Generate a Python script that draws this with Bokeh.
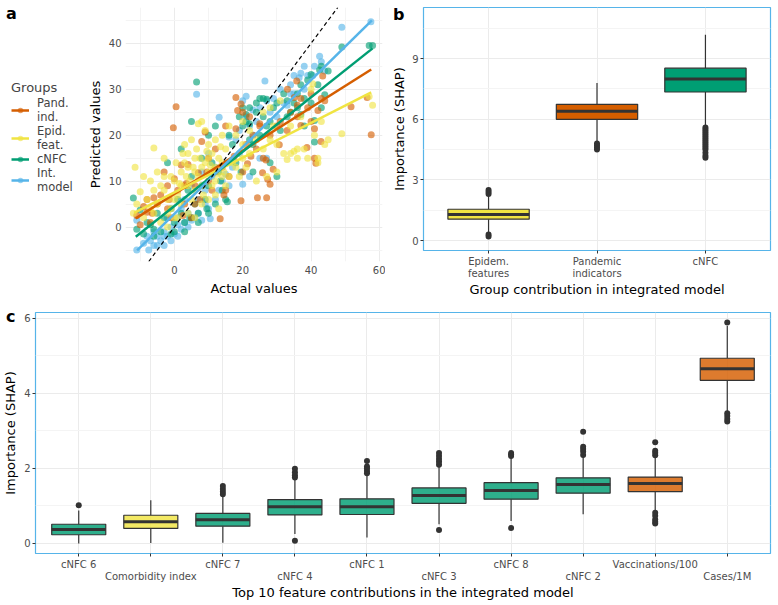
import numpy as np
from bokeh.plotting import figure
from bokeh.models import Legend, LegendItem, FixedTicker, Slope, Div
from bokeh.layouts import column, row
from bokeh.embed import file_html
from bokeh.resources import INLINE

FONT = "DejaVu Sans"
ORANGE = "#D55E00"
YELLOW = "#F0E442"
GREEN = "#009E73"
BLUE = "#56B4E9"
BOXLINE = "#333333"
GRID = "#EBEBEB"
MINOR = "#F4F4F4"
TICKTXT = "#4D4D4D"

# ---------------- Panel a data (actual vs predicted) ----------------
groups = ["Pand.\nind.", "Epid.\nfeat.", "cNFC", "Int.\nmodel"]

pand_x = [-11, -10, -9, -8, -7, -6, -5, -4, -3, -2, -1, -0.3, 0.5, 0, 1, 2, 3, 4, 5, 6, 7, 8, 9, 10, 11, 12,
          13.4, 14, 15, 16, 17.5, 18, 18, 18.5, 19.5, 19.5, 20, 21.4, 22.4, 23, 24.3, 25.8, 26.8, 27, 27.3, 28,
          28.9, 30, 30.7, 33.1, 34, 35.1, 35.8, 37, 38.8, 41, 41.4, 41, 42, 42.9, 43.4, 51.7, 56.4, 57.6,
          -6.5, -1.5, 3.5, 7.5, 2.5, 9.5, 14.5, 36, 40, 25,
          20, 22, 25, 28, 31, 33, 36, 39, 40, 43, 44, 37, 21, 24, 26, 15, 12, 10, 6, 3, -2, -8]
pand_y = [2.5, 0.5, 4.5, 3.2, 1, 6.4, 5, 7, 12, 9, 2, 21.6, 26.2, 10.5, 8, 13.5, 5, 13.6, 2, 9, 11.8, 18.6,
          20.7, 15, 8, 17, 1.8, 13, 22, 11, 15.4, 21.4, 28.2, 25.4, 26.8, 5.7, 12, 13.8, 15.4, 20, 6.4, 11.8,
          14.6, 6.4, 10.4, 9.3, 12.6, 22, 17.9, 30, 25, 28.2, 31.8, 22.1, 17.3, 15, 13.9, 21.4, 25.4, 18.6,
          32.9, 26.2, 28.2, 20.1, 3, 6, 9.5, 6, 2.5, 12, 7, 26.5, 29, 22.5,
          25, 24, 22, 20, 23, 21, 24, 26, 23, 28, 27.5, 28, 18, 17, 15, 8, 12, 10, 5, 9, 4, 6]

epid_x = [-12, -11.5, -11, -10, -9, -9, -8, -7, -7, -6, -6, -5, -5, -4, -4, -3, -3, -2, -2, -1, -1, 0, 0,
          0.5, 1, 1, 2, 2, 3, 3, 4, 4, 4, 5, 5, 6, 6, 6, 7, 7, 8, 8, 8, 9, 9, 10, 10, 10, 11, 11, 12, 12, 12,
          13, 13, 14, 14, 15, 15, 16, 16, 18, 18, 20, 20, 22, 22, 24, 26, 27, 28, 29, 30, 31, 32, 33, 34, 35,
          36, 37, 38, 39, 40, 40.5, 41, 42, 42, 43, 45, 49, 57, 58,
          1.5, 3.5, 5.5, 7.5, 9.5, 11.5, 13.5, 2.5, 6.5, 10.5, 14.5, 8.5, 4.5, 12.5,
          20, 24, 30, 36, 44, 26, 28, 34, 17, 19, 21, 2, 4, 6, 8, 10, 12, 14, 0, -2, -3, -6]
epid_y = [3, 13, 5, 7.7, 11, 2, 6, 10, 4, 17.2, 8, 5, 12, 1, 9, 8, 15, 0, 6, 4, 11, 10, 2, 14, 2, 7, 5, 12,
          14, 18, 3, 9, 13, 19, 6, 2, 8, 15, 22.5, 11, 23, 9, 5, 21, 14, 12, 6, 18, 16, 9, 10, 7, 19, 15, 4,
          14, 20, 17, 9, 11, 22, 20, 13, 18, 23, 21, 16, 10, 17, 11, 19, 22, 12, 27.5, 16, 14.7, 16, 16.5, 17,
          24, 17, 15, 30, 31.2, 20, 14, 15, 23, 19, 20.3, 28.4, 26.5,
          9.5, 11, 13, 15, 16.5, 12.5, 17.5, 16, 17, 13.5, 12, 7, 10, 11.5,
          15, 19, 18, 15, 18, 25, 26, 22, 14, 11, 13, 9, 16, 12, 13, 15, 13, 11, 6, 3, 11, 3]

cnfc_x = [-12, -11, -10, -9, -8, -7, -6, -5, -4, -3, -2, -1, 0, 0, 1, 2, 2, 3, 4, 5, 5, 6, 6.5, 7, 8, 8, 9,
          10, 10, 11, 12, 13, 14, 15, 16, 17, 18, 19, 20, 21, 22, 23, 23, 24, 25, 26, 27, 28, 28, 30, 31, 32,
          33, 35, 36, 37, 38, 40, 41, 41, 42.5, 43, 44, 45, 49, 57, 58, 4.5, 9.5, 13.5, 15.5, 19.5,
          21, 22, 24, 26, 29, 33, 34, 36, 38, 39, 40, 42, 43, 37, 30, 27, 25, 20, 22, -1, -6, 3, 5, 7, 10, 12]
cnfc_y = [6.3, -0.5, 3.7, -1.5, 1, 0.5, -2, 3, -1, 2, 14, 4, 1, -1, 6, 17, 3, 1, 8, 11, 23, 5, 31.6, 3, 15,
          9, 6, 20, 9, 14, 22, 12, 8, 6, 20, 18, 14, 24, 26, 23, 26, 18, 12, 25, 28, 28, 27.8, 14, 23, 11, 21,
          29, 24, 27, 26, 31, 22, 33.2, 23.2, 18.5, 34.2, 35, 28.8, 34, 39.2, 39.5, 39.5, 2, 4, 10, 5.5, 12,
          24.5, 22.5, 27, 24, 26, 27.5, 25, 29, 28, 32, 27, 31, 26, 24.5, 27, 22, 20, 22, 19, -1.5, -0.5, -1, 2,
          1, 3, 5]

intm_x = [-11, -11, -9, -8, -7.5, -7, -6, -5, -5, -4, -3, -3, -2, -1, -1, 0, 1, 1, 2, 3, 4, 5, 6, 7, 8, 9,
          10, 10.5, 12, 13, 14, 15, 16, 17, 18, 19, 20, 20, 21, 22, 23, 24, 25, 26.5, 6.5, 28, 30, 32, 33, 34,
          35, 36.5, 38, 39, 40.5, 42.5, 44, 49, 57.5, 12, 5, 3, -2, 8, 10, 2, 27, 16, 13.1,
          21, 23, 25, 27, 29, 31, 34, 37, 38, 41, 43, 35, 22, 19, 11, 9, 7, 4, 1, -3, -6]
intm_y = [-5, 1.5, -3.5, -2, -5, -3, -1, -4, -2, -3, -1, -4, -2, -3, 0, -1.5, -2, 0.5, -0.5, 1, 0, 1.5, 2,
          3, 1.5, 5, 4, 1.8, 6, 8, 10, 11.5, 9, 13, 19, 16, 9.3, 27.5, 28.5, 11, 20, 23, 15, 31.8, 28.9, 25,
          24, 27, 26.5, 29, 29, 32.5, 30, 33, 33, 37.2, 34, 43.5, 44.7, 13, 9, 6, 2, 12, 16, 4, 15, 19.6, 23.9,
          24, 25.5, 26, 27.5, 28, 30, 31, 33.5, 35, 35, 36, 33, 22, 21, 11, 8, 6, 3, 2, -2, -4]

# fitted lines (start / end)
fit_x0 = [-11.3, -11.8, -11.3, -10.9]
fit_x1 = [57.6, 57.6, 58.0, 57.8]
fit_y0 = [1.9, 3.1, -2.1, -5.1]
fit_y1 = [34.3, 29.3, 38.9, 45.0]

# ---------------- Panel b data ----------------
b_labels = ["Epidem.\nfeatures", "Pandemic\nindicators", "cNFC"]
b_q1 = [1.06, 6.00, 7.35]
b_med = [1.29, 6.40, 7.99]
b_q3 = [1.55, 6.74, 8.53]
b_wlo = [0.40, 4.90, 5.65]
b_whi = [2.20, 7.80, 10.18]
b_out = [[0.2, 0.3, 2.3, 2.4, 2.5],
         [4.5, 4.6, 4.7, 4.8],
         [4.1, 4.2, 4.35, 4.5, 4.6, 4.7, 4.8, 4.9, 5.0, 5.1, 5.2, 5.3, 5.4, 5.5, 5.6]]
b_colors = [YELLOW, ORANGE, GREEN]

# ---------------- Panel c data ----------------
c_labels = ["cNFC 6", "Comorbidity index", "cNFC 7", "cNFC 4", "cNFC 1",
            "cNFC 3", "cNFC 8", "cNFC 2", "Vaccinations/100", "Cases/1M"]
c_group = ["cNFC", "Epid", "cNFC", "cNFC", "cNFC", "cNFC", "cNFC", "cNFC", "Pand", "Pand"]
c_q1 = [0.23, 0.40, 0.46, 0.76, 0.77, 1.07, 1.18, 1.34, 1.38, 4.35]
c_med = [0.37, 0.58, 0.63, 0.98, 0.98, 1.28, 1.41, 1.57, 1.60, 4.66]
c_q3 = [0.51, 0.75, 0.80, 1.17, 1.19, 1.48, 1.62, 1.75, 1.77, 4.94]
c_wlo = [0.00, 0.01, 0.02, 0.25, 0.16, 0.51, 0.60, 0.78, 0.86, 3.51]
c_whi = [0.88, 1.15, 1.30, 1.74, 1.82, 2.05, 2.30, 2.40, 2.30, 5.80]
c_out = [[1.02],
         [],
         [1.31, 1.38, 1.45, 1.53],
         [0.07, 1.76, 1.82, 1.90, 1.99],
         [1.87, 1.93, 2.00, 2.05, 2.20],
         [0.36, 2.10, 2.18, 2.25, 2.33, 2.41],
         [0.41, 2.33, 2.37, 2.41],
         [2.36, 2.45, 2.52, 2.58, 2.98],
         [0.53, 0.58, 0.64, 0.74, 0.82, 2.35, 2.42, 2.47, 2.70],
         [3.25, 3.32, 3.40, 3.47, 5.89]]
c_color_map = {"cNFC": GREEN, "Epid": YELLOW, "Pand": ORANGE}


def style_axes(p, tick_size="10px", title_size="13px"):
    for ax in (p.xaxis, p.yaxis):
        ax.axis_line_color = None
        ax.major_label_text_font = FONT
        ax.major_label_text_font_size = tick_size
        ax.major_label_text_color = TICKTXT
        ax.axis_label_text_font = FONT
        ax.axis_label_text_font_size = title_size
        ax.axis_label_text_font_style = "normal"
        ax.axis_label_text_color = "black"
        ax.minor_tick_line_color = None
        ax.minor_tick_out = 0
        ax.minor_tick_in = 0


TOP_H = 311

# ======================= Panel a =======================
pa = figure(width=305, height=TOP_H, output_backend="svg", toolbar_location=None,
            x_range=(-14.3, 60.9), y_range=(-7.5, 47.8),
            min_border_left=45, min_border_right=3, min_border_top=6, min_border_bottom=50)
pa.outline_line_color = None
pa.xaxis.ticker = FixedTicker(ticks=[0, 20, 40, 60], minor_ticks=[-10, 10, 30, 50])
pa.yaxis.ticker = FixedTicker(ticks=[0, 10, 20, 30, 40], minor_ticks=[-5, 5, 15, 25, 35, 45])
pa.xaxis.axis_label = "Actual values"
pa.yaxis.axis_label = "Predicted values"
style_axes(pa)
for ax in (pa.xaxis, pa.yaxis):
    ax.major_tick_line_color = None
    ax.major_tick_out = 0
    ax.major_tick_in = 0
    ax.major_label_standoff = 4
    ax.axis_label_standoff = 4
pa.yaxis.axis_label_standoff = 3
for g in (pa.xgrid, pa.ygrid):
    g.grid_line_color = GRID
    g.minor_grid_line_color = MINOR

pt_kw = dict(size=7, alpha=0.62, line_color=None)
pa.scatter(intm_x, intm_y, fill_color=BLUE, **pt_kw)
pa.scatter(cnfc_x, cnfc_y, fill_color=GREEN, **pt_kw)
pa.scatter(pand_x, pand_y, fill_color=ORANGE, **pt_kw)
pa.scatter(epid_x, epid_y, fill_color=YELLOW, **pt_kw)
pa.add_layout(Slope(gradient=1, y_intercept=0, line_color="black", line_dash="4 3", line_width=1.2))

line_cols = [ORANGE, YELLOW, GREEN, BLUE]
for i, col in enumerate(line_cols):
    pa.line([fit_x0[i], fit_x1[i]], [fit_y0[i], fit_y1[i]], line_color=col, line_width=2.5)

# ---- legend panel for a (own narrow figure; its renderers are hidden) ----
pl = figure(width=80, height=300, output_backend="svg", toolbar_location=None,
            x_range=(0, 1), y_range=(0, 1), min_border=0)
pl.axis.visible = False
pl.grid.visible = False
pl.outline_line_color = None
all_x = [pand_x, epid_x, cnfc_x, intm_x]
all_y = [pand_y, epid_y, cnfc_y, intm_y]
items = []
for i, col in enumerate(line_cols):
    lr = pl.line([fit_x0[i], fit_x1[i]], [fit_y0[i], fit_y1[i]], line_color=col, line_width=2.5, visible=False)
    sr = pl.scatter(all_x[i], all_y[i], fill_color=col, size=7, alpha=0.62, line_color=None, visible=False)
    items.append(LegendItem(label=groups[i], renderers=[lr, sr]))
leg = Legend(items=items, title="Groups", location=(11, 56))
leg.title_text_font = FONT
leg.title_text_font_size = "13px"
leg.title_text_font_style = "normal"
leg.label_text_font = FONT
leg.label_text_font_size = "11.5px"
leg.label_text_line_height = 1.1
leg.border_line_color = None
leg.background_fill_alpha = 0
leg.inactive_fill_alpha = 0
leg.padding = 4
leg.margin = 0
leg.spacing = 0
leg.glyph_width = 18
leg.glyph_height = 14
leg.label_standoff = 8
leg.title_standoff = 1
pl.add_layout(leg, "center")

# ======================= Panel b =======================
bx = [1, 2, 3]
pb = figure(width=393, height=300, output_backend="svg", toolbar_location=None,
            x_range=(0.4, 3.6), y_range=(-0.49, 11.53),
            min_border_left=38, min_border_right=8, min_border_top=7, min_border_bottom=48)
pb.outline_line_color = BLUE
pb.outline_line_width = 1.2
pb.xaxis.ticker = FixedTicker(ticks=bx)
pb.xaxis.major_label_overrides = {i + 1: b_labels[i] for i in range(3)}
pb.yaxis.ticker = FixedTicker(ticks=[0, 3, 6, 9], minor_ticks=[1.5, 4.5, 7.5, 10.5])
pb.xaxis.axis_label = "Group contribution in integrated model"
pb.yaxis.axis_label = "Importance (SHAP)"
style_axes(pb)
pb.xaxis.major_label_text_line_height = 1.15
for ax in (pb.xaxis, pb.yaxis):
    ax.major_tick_line_color = BOXLINE
    ax.major_tick_out = 3
    ax.major_tick_in = 0
    ax.major_label_standoff = 2
    ax.axis_label_standoff = 2
pb.xaxis.axis_label_standoff = 0
pb.xgrid.grid_line_color = GRID
pb.ygrid.grid_line_color = GRID
pb.ygrid.minor_grid_line_color = MINOR

BW = 0.75
pb.segment(bx, b_q3, bx, b_whi, line_color=BOXLINE, line_width=1.2)
pb.segment(bx, b_q1, bx, b_wlo, line_color=BOXLINE, line_width=1.2)
pb.vbar(x=bx, width=BW, top=b_q3, bottom=b_q1, fill_color=b_colors, line_color=BOXLINE, line_width=1.2)
pb.segment([x - BW / 2 for x in bx], b_med, [x + BW / 2 for x in bx], b_med, line_color=BOXLINE, line_width=3)
ox, oy = [], []
for i, outs in enumerate(b_out):
    ox += [bx[i]] * len(outs)
    oy += outs
pb.scatter(ox, oy, size=6, fill_color=BOXLINE, line_color=None)

# ======================= Panel c =======================
cx = list(range(1, 11))
pc = figure(width=778, height=605 - TOP_H, output_backend="svg", toolbar_location=None,
            x_range=(0.4, 10.6), y_range=(-0.27, 6.16),
            min_border_left=35, min_border_right=8, min_border_top=1, min_border_bottom=52)
pc.outline_line_color = BLUE
pc.outline_line_width = 1.2
pc.xaxis.ticker = FixedTicker(ticks=cx)
pc.xaxis.major_label_overrides = {i + 1: (c_labels[i] if i % 2 == 0 else "\n" + c_labels[i]) for i in range(10)}
pc.yaxis.ticker = FixedTicker(ticks=[0, 2, 4, 6], minor_ticks=[1, 3, 5])
pc.xaxis.axis_label = "Top 10 feature contributions in the integrated model"
pc.yaxis.axis_label = "Importance (SHAP)"
style_axes(pc)
pc.xaxis.major_label_text_line_height = 1.15
for ax in (pc.xaxis, pc.yaxis):
    ax.major_tick_line_color = BOXLINE
    ax.major_tick_out = 3
    ax.major_tick_in = 0
    ax.major_label_standoff = 2
    ax.axis_label_standoff = 3
pc.xaxis.axis_label_standoff = 0
pc.xgrid.grid_line_color = GRID
pc.ygrid.grid_line_color = GRID
pc.ygrid.minor_grid_line_color = MINOR

c_fill = [c_color_map[g] for g in c_group]
pc.segment(cx, c_q3, cx, c_whi, line_color=BOXLINE, line_width=1.2)
pc.segment(cx, c_q1, cx, c_wlo, line_color=BOXLINE, line_width=1.2)
pc.vbar(x=cx, width=BW, top=c_q3, bottom=c_q1, fill_color=c_fill, fill_alpha=0.82,
        line_color=BOXLINE, line_width=1.2)
pc.segment([x - BW / 2 for x in cx], c_med, [x + BW / 2 for x in cx], c_med, line_color=BOXLINE, line_width=3)
ox, oy = [], []
for i, outs in enumerate(c_out):
    ox += [cx[i]] * len(outs)
    oy += outs
pc.scatter(ox, oy, size=6, fill_color=BOXLINE, line_color=None)

# ---- panel letters ----
def letter(txt, left, top):
    return Div(text=txt, styles={"position": "absolute", "left": f"{left}px", "top": f"{top}px",
                                 "font-family": FONT, "font-size": "16px", "font-weight": "bold",
                                 "line-height": "16px", "margin": "0", "padding": "0", "z-index": "10"})

layout = column(letter("a", 6, 6), letter("b", 393, 7), letter("c", 6, 309),
                row(pl, pa, pb), pc)
open("out.html", "w").write(file_html(layout, INLINE))
